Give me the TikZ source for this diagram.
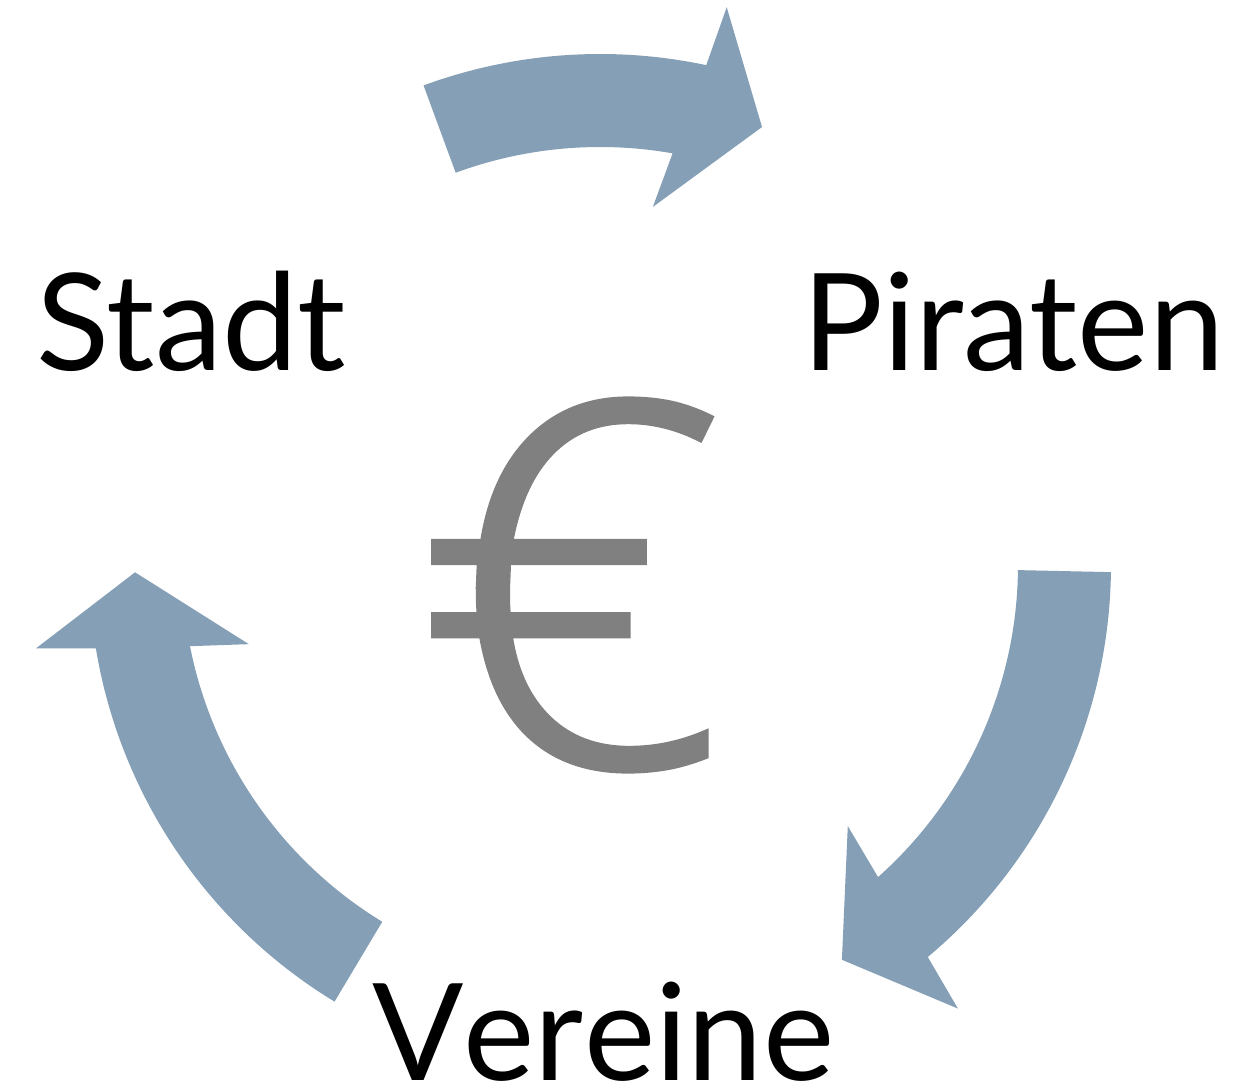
\documentclass[tikz,border=0pt]{standalone}
\usepackage{fontspec}
\setmainfont{Lato}
\newfontfamily\eurofont[FakeStretch=1.08,FakeBold=1.2]{OpenSans-Light.ttf}
\definecolor{arrowblue}{RGB}{132,159,182}
\definecolor{eurogray}{RGB}{128,128,128}
\begin{document}
\begin{tikzpicture}[x=1pt,y=1pt,
  cyc/.style={fill=arrowblue,draw=none},
  lbl/.style={inner sep=0pt,anchor=base west,font=\fontsize{135}{160}\selectfont}]
\useasboundingbox (0,0) rectangle (1234,-1084);
\coordinate (c) at (600,-565);
% top arrow
\fill[cyc] ([shift={(110.2:511pt)}]c) arc[start angle=110.2,end angle=78.0,radius=511pt]
  -- ([shift={(77.2:572pt)}]c) -- ([shift={(69.7:467pt)}]c) -- ([shift={(81.6:362pt)}]c)
  -- ([shift={(80.0:418pt)}]c) arc[start angle=80.0,end angle=110.2,radius=418pt] -- cycle;
% right arrow
\fill[cyc] ([shift={(-0.8:511pt)}]c) arc[start angle=-0.8,end angle=-50.1,radius=511pt]
  -- ([shift={(-51.1:570pt)}]c) -- ([shift={(-58.5:463pt)}]c) -- ([shift={(-46.5:360pt)}]c)
  -- ([shift={(-48.3:418pt)}]c) arc[start angle=-48.3,end angle=-0.7,radius=418pt] -- cycle;
% left arrow
\fill[cyc] ([shift={(238.7:511pt)}]c) arc[start angle=238.7,end angle=189.4,radius=511pt]
  -- ([shift={(188.4:570pt)}]c) -- ([shift={(180.9:465pt)}]c) -- ([shift={(192.7:360pt)}]c)
  -- ([shift={(191.2:418pt)}]c) arc[start angle=191.2,end angle=238.6,radius=418pt] -- cycle;
% labels
\node[lbl] (stadt) at (36,-370) {Stadt};
\node[lbl] (piraten) at (802,-370) {Piraten};
\node[lbl] (vereine) at (372,-1080) {\addfontfeatures{Kerning=Off}Vereine};
\node[inner sep=0pt,text=eurogray,font=\eurofont\fontsize{505}{600}\selectfont] (euro) at (570,-585) {€};
\end{tikzpicture}
\end{document}
